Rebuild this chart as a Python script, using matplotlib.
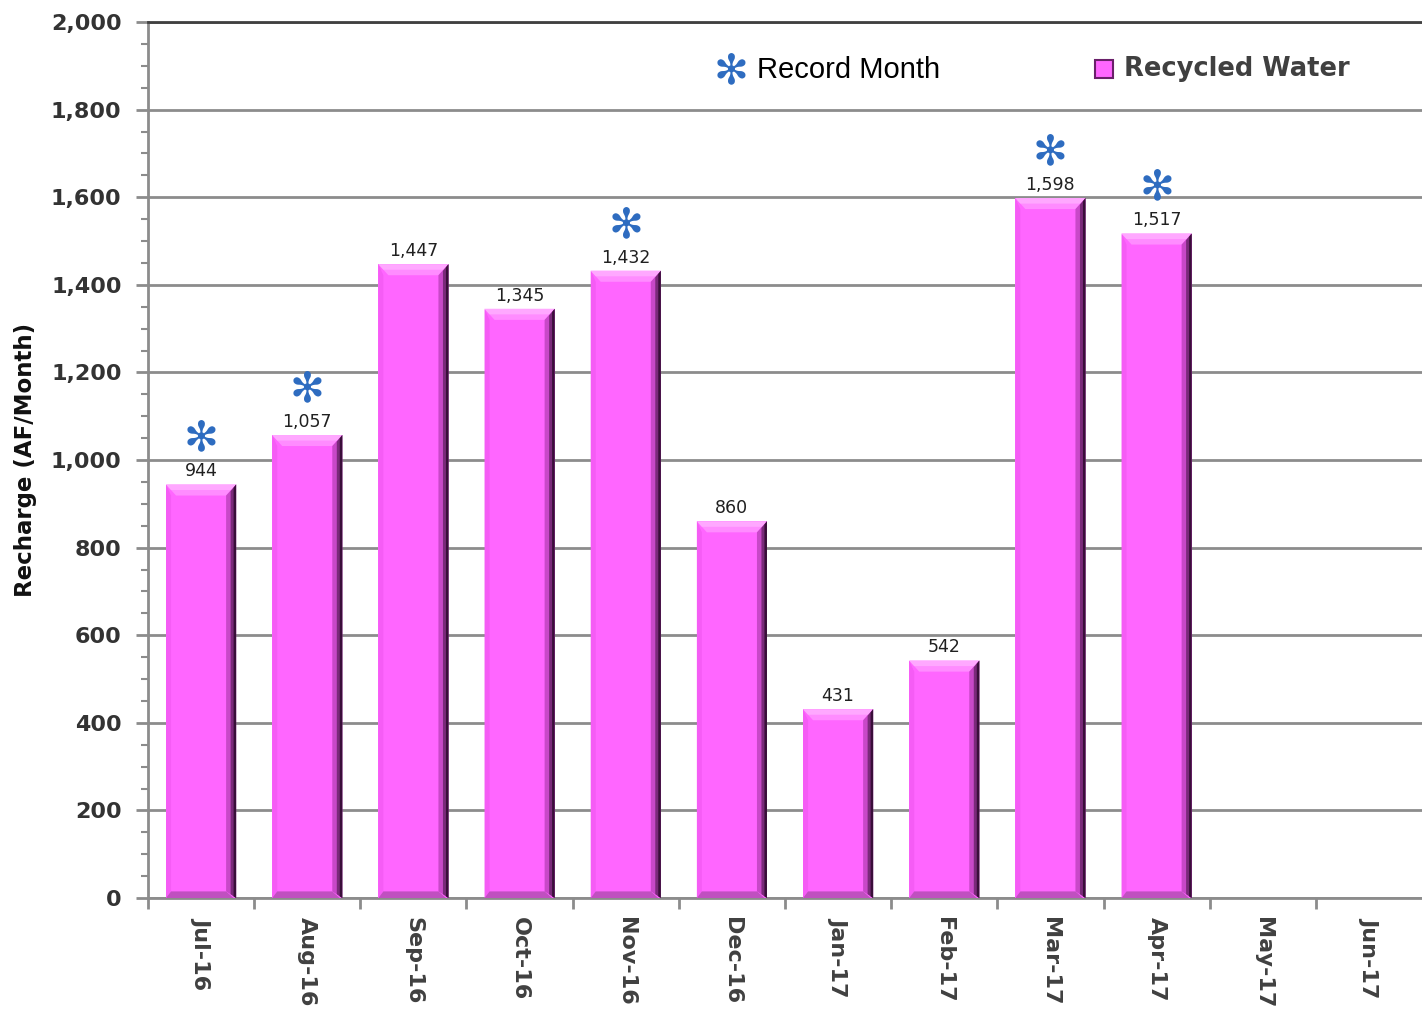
import matplotlib
matplotlib.use("Agg")
import matplotlib.pyplot as plt
from matplotlib.patches import Polygon
from matplotlib.ticker import MultipleLocator, FuncFormatter

months = ["Jul-16", "Aug-16", "Sep-16", "Oct-16", "Nov-16", "Dec-16",
          "Jan-17", "Feb-17", "Mar-17", "Apr-17", "May-17", "Jun-17"]
values = [944, 1057, 1447, 1345, 1432, 860, 431, 542, 1598, 1517]
record = [True, True, False, False, True, False, False, False, True, True]

W, H = 1422, 1016
fig = plt.figure(figsize=(W / 100, H / 100), dpi=100)
ax_l, ax_r, ax_b, ax_t = 148 / W, 1.0, 1 - 898 / H, 1 - 22 / H
ax = fig.add_axes([ax_l, ax_b, ax_r - ax_l, ax_t - ax_b])

n = len(months)
ax.set_xlim(-0.5, n - 0.5)
ax.set_ylim(0, 2000)

px_x = (n) / (W * (ax_r - ax_l))
px_y = 2000 / (H * (ax_t - ax_b))

face = "#FF66FF"
bw = 0.66
xs = list(range(len(values)))
bars = ax.bar(xs, values, width=bw, color=face, zorder=3, linewidth=0)

for b in bars:
    x0 = b.get_x(); x1 = x0 + b.get_width(); h = b.get_height()
    dx = 10 * px_x; dy = 11 * px_y
    # top bevel
    ax.add_patch(Polygon([(x0, h), (x1, h), (x1 - dx, h - dy), (x0 + dx, h - dy)],
                         closed=True, color="#FF8CFF", lw=0, zorder=4))
    ax.add_patch(Polygon([(x0, h), (x1, h), (x1 - dx * 0.5, h - dy * 0.5), (x0 + dx * 0.5, h - dy * 0.5)],
                         closed=True, color="#FFA8FF", lw=0, zorder=4))
    # left bevel
    ax.add_patch(Polygon([(x0, h), (x0 + dx * 0.5, h - dy), (x0 + dx * 0.5, dy * 0.6), (x0, 0)],
                         closed=True, color="#F55CF5", lw=0, zorder=4))
    # right bevel
    ax.add_patch(Polygon([(x1, h), (x1, 0), (x1 - dx, dy * 0.6), (x1 - dx, h - dy)],
                         closed=True, color="#C848C8", lw=0, zorder=4))
    ax.add_patch(Polygon([(x1, h), (x1, 0), (x1 - dx * 0.55, dy * 0.35), (x1 - dx * 0.55, h - dy * 0.6)],
                         closed=True, color="#7A2A7A", lw=0, zorder=4))
    ax.add_patch(Polygon([(x1, h), (x1, 0), (x1 - dx * 0.25, dy * 0.15), (x1 - dx * 0.25, h - dy * 0.3)],
                         closed=True, color="#3A0E3A", lw=0, zorder=4))
    # bottom bevel
    ax.add_patch(Polygon([(x0, 0), (x1 - dx * 0.25, 0), (x1 - dx, dy * 0.6), (x0 + dx * 0.5, dy * 0.6)],
                         closed=True, color="#C050C0", lw=0, zorder=4))

for x, v, r in zip(xs, values, record):
    ax.annotate(f"{v:,}", (x, v), xytext=(0, 3), textcoords="offset points",
                ha="center", va="bottom", fontsize=12.5, color="#202020", zorder=6)
    if r:
        ax.annotate("\u273B", (x, v), xytext=(0, 18), textcoords="offset points",
                    ha="center", va="bottom", fontsize=30, color="#2E6CC0", zorder=6)

# grid
ax.yaxis.set_major_locator(MultipleLocator(200))
ax.yaxis.set_minor_locator(MultipleLocator(50))
ax.yaxis.set_major_formatter(FuncFormatter(lambda v, p: f"{int(v):,}"))
ax.grid(axis="y", which="major", color="#8C8C8C", linewidth=2, zorder=1)
ax.set_axisbelow(True)

ax.spines["right"].set_visible(False)
ax.spines["top"].set_color("#404040")
ax.spines["top"].set_linewidth(2)
ax.spines["left"].set_color("#8C8C8C")
ax.spines["left"].set_linewidth(2)
ax.spines["bottom"].set_color("#8C8C8C")
ax.spines["bottom"].set_linewidth(2)

ax.tick_params(axis="y", which="major", length=9, width=2, color="#8C8C8C",
               labelsize=16, labelcolor="#333333", pad=10)
ax.tick_params(axis="y", which="minor", length=5, width=1.5, color="#8C8C8C")
for lab in ax.get_yticklabels():
    lab.set_fontweight("bold")

# x ticks at boundaries
ax.set_xticks([i - 0.5 for i in range(n)])
ax.set_xticklabels([])
ax.tick_params(axis="x", which="major", length=8, width=2, color="#8C8C8C")
ax.set_xticks(range(n), minor=True)
ax.set_xticklabels(months, minor=True, rotation=-90, fontsize=16,
                   fontweight="bold", color="#404040")
ax.tick_params(axis="x", which="minor", length=0, pad=14)

ax.set_ylabel("Recharge (AF/Month)", fontsize=16.5, fontweight="bold",
              color="#111111", labelpad=10)

# legend
fig.text(731 / W, 1 - 71 / H, "\u273B", fontsize=30, color="#2E6CC0",
         ha="center", va="center")
fig.text(757 / W, 1 - 70 / H, "Record Month", fontsize=21, color="#000000",
         ha="left", va="center", family="Liberation Sans")
sq = 18
fig.patches.append(plt.Rectangle(((1104 - sq / 2) / W, 1 - (69 + sq / 2) / H), sq / W, sq / H,
                                 transform=fig.transFigure, facecolor=face,
                                 edgecolor="#6A206A", linewidth=1.5))
fig.text(1124 / W, 1 - 69 / H, "Recycled Water", fontsize=18.5, color="#404040",
         ha="left", va="center", fontweight="bold", family="DejaVu Sans")

fig.savefig("out.png", dpi=100)
